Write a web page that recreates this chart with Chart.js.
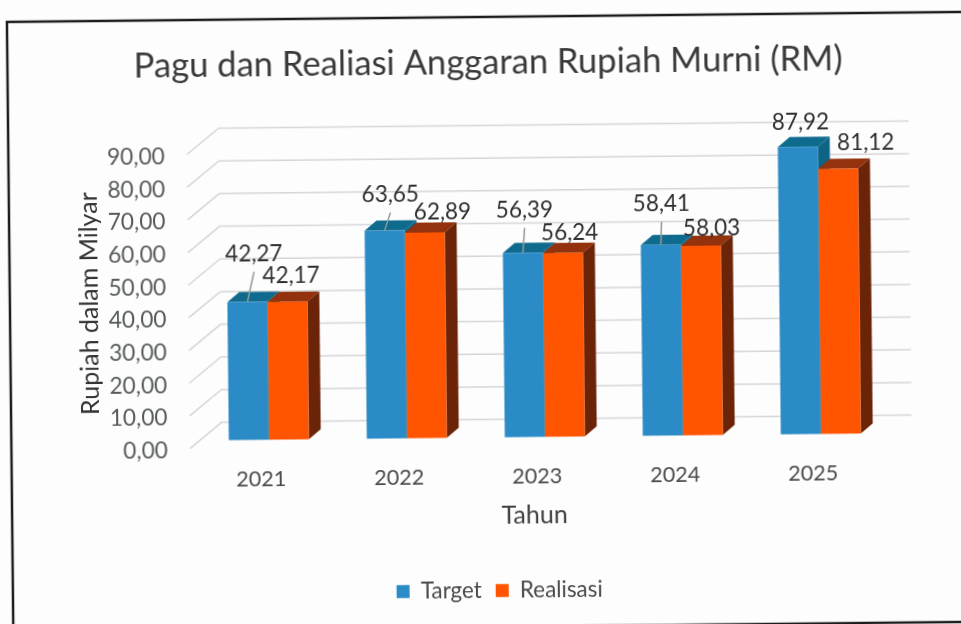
<!DOCTYPE html>
<html>
<head>
<meta charset="utf-8">
<title>Pagu dan Realiasi Anggaran Rupiah Murni (RM)</title>
<script src="https://cdn.jsdelivr.net/npm/chart.js@4"></script>
<style>
    html, body { margin: 0; padding: 0; background: #fdfdfd; overflow: hidden; width: 961px; height: 624px; }
    /* the source is a slightly crooked scan, canvas is oversized so the frame stays on it */
    #chart { display: block; transform-origin: 480px 312px; transform: rotate(-0.6deg); }
</style>
</head>
<body>
<canvas id="chart" width="1000" height="660"></canvas>
<script>
const years = ['2021', '2022', '2023', '2024', '2025'];
const target = [42.27, 63.65, 56.39, 58.41, 87.92];
const realisasi = [42.17, 62.89, 56.24, 58.03, 81.12];
const yTicks = [0, 10, 20, 30, 40, 50, 60, 70, 80, 90];

const FONT = 'Lato, Carlito, sans-serif';
const formatValue = v => v.toFixed(2).replace('.', ',');

// data labels sit by hand in the original, so offsets from the bar's top centre
const labelShift = [
    [[7, -48], [6, -36], [2, -43], [1, -41], [3, -25]],
    [[4, -26], [18, -20], [7, -20], [11, -17], [28, -26]]
];
const leaderYears = [0, 1, 2, 3];

// faked 3D look of the original
const BAR_DEPTH = { x: 12, y: -10 };
const WALL_BACK = { x: 22, y: -18 };
const WALL_FRONT = { x: -10, y: 8 };

const fake3d = {
    id: 'fake3d',
    afterLayout(chart) {
        // titles are off-centre in the original
        chart.titleBlock.left += 9;
        chart.titleBlock.right += 9;
        chart.legend.left += 15;
        chart.legend.right += 15;
        chart.scales.x.right -= 22;
        chart.scales.y.top += 18;
    },
    beforeDraw(chart) {
        const { ctx } = chart;
        ctx.save();
        ctx.strokeStyle = '#1c1c1c';
        ctx.lineWidth = 2.5;
        ctx.strokeRect(10, 17, 985, 610);
        ctx.restore();
    },
    beforeDatasetsDraw(chart) {
        const { ctx, chartArea, scales } = chart;
        ctx.save();
        ctx.strokeStyle = '#d4d6d8';
        ctx.lineWidth = 1.5;
        yTicks.forEach(v => {
            const y = scales.y.getPixelForValue(v);
            ctx.beginPath();
            ctx.moveTo(chartArea.left + WALL_FRONT.x, y + WALL_FRONT.y);
            ctx.lineTo(chartArea.left + WALL_BACK.x, y + WALL_BACK.y);
            ctx.lineTo(chartArea.right + WALL_BACK.x, y + WALL_BACK.y);
            ctx.stroke();
        });
        // top and side faces, the library paints the front faces over them
        const faces = [['#0f6b8e', '#0d6484'], ['#93320c', '#6b2408']];
        years.forEach((_, i) => {
            faces.forEach((face, d) => {
                const bar = chart.getDatasetMeta(d).data[i];
                const l = bar.x - bar.width / 2, r = bar.x + bar.width / 2;
                const top = bar.y, base = bar.base;
                ctx.fillStyle = face[0];
                ctx.beginPath();
                ctx.moveTo(l, top);
                ctx.lineTo(l + BAR_DEPTH.x, top + BAR_DEPTH.y);
                ctx.lineTo(r + BAR_DEPTH.x, top + BAR_DEPTH.y);
                ctx.lineTo(r, top);
                ctx.fill();
                ctx.fillStyle = face[1];
                ctx.beginPath();
                ctx.moveTo(r, top);
                ctx.lineTo(r + BAR_DEPTH.x, top + BAR_DEPTH.y);
                ctx.lineTo(r + BAR_DEPTH.x, base + BAR_DEPTH.y);
                ctx.lineTo(r, base);
                ctx.fill();
            });
        });
        ctx.restore();
    },
    afterDatasetsDraw(chart) {
        const { ctx } = chart;
        ctx.save();
        ctx.font = '22.5px ' + FONT;
        ctx.textAlign = 'center';
        ctx.textBaseline = 'middle';
        chart.data.datasets.forEach((ds, d) => {
            ds.data.forEach((v, i) => {
                const bar = chart.getDatasetMeta(d).data[i];
                const [dx, dy] = labelShift[d][i];
                if (d === 0 && leaderYears.includes(i)) {
                    ctx.strokeStyle = '#8f9a9c';
                    ctx.lineWidth = 1.5;
                    ctx.beginPath();
                    ctx.moveTo(bar.x + dx, bar.y + dy + 18);
                    ctx.lineTo(bar.x, bar.y);
                    ctx.stroke();
                }
                ctx.fillStyle = '#2f2f2f';
                ctx.fillText(formatValue(v), bar.x + dx, bar.y + dy);
            });
        });
        ctx.restore();
    }
};

new Chart(document.getElementById('chart'), {
    type: 'bar',
    data: {
        labels: years,
        datasets: [
            { label: 'Target', data: target, backgroundColor: '#2b8bc6', clip: false },
            { label: 'Realisasi', data: realisasi, backgroundColor: '#ff5500', clip: false }
        ]
    },
    options: {
        responsive: false,
        animation: false,
        categoryPercentage: 0.58,
        barPercentage: 1,
        layout: { padding: { left: 75, right: 111.5, top: 42, bottom: 48 } },
        scales: {
            x: {
                afterFit(axis) { axis.height = 128; },
                grid: { display: false },
                border: { display: false },
                ticks: { color: '#4a4a4a', padding: 19, labelOffset: -8, font: { family: FONT, size: 21.5 } },
                title: { display: true, text: 'Tahun', color: '#404040', padding: { top: 12, bottom: 35 }, font: { family: FONT, size: 25 } }
            },
            y: {
                min: 0,
                max: 90,
                afterFit(axis) { axis.width = 123.5; },
                afterBuildTicks(axis) { axis.ticks = yTicks.map(value => ({ value })); },
                grid: { display: false },
                border: { display: false },
                ticks: {
                    color: '#565b58',
                    padding: 24,
                    labelOffset: 10,
                    font: { family: FONT, size: 22.7 },
                    callback: formatValue
                },
                title: { display: true, text: 'Rupiah dalam Milyar', color: '#333', padding: { top: 0, bottom: 4 }, font: { family: FONT, size: 25 } }
            }
        },
        plugins: {
            tooltip: { enabled: false },
            title: {
                display: true,
                text: 'Pagu dan Realiasi Anggaran Rupiah Murni (RM)',
                color: '#3a3a3a',
                padding: { top: 0, bottom: 60 },
                font: { family: FONT, size: 34.6, weight: 'normal' }
            },
            legend: {
                position: 'bottom',
                labels: {
                    color: '#4a4a4a',
                    boxWidth: 13,
                    boxHeight: 13,
                    padding: 14,
                    font: { family: FONT, size: 22.4 }
                }
            }
        }
    },
    plugins: [fake3d]
});
</script>
</body>
</html>
